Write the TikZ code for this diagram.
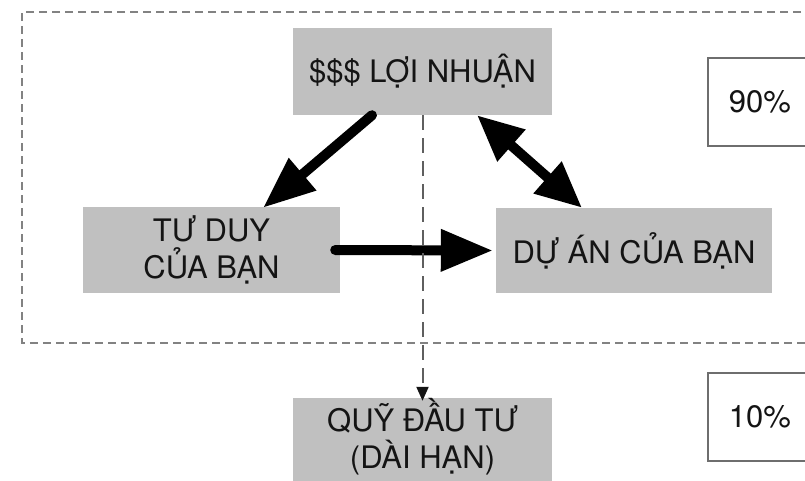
\documentclass[tikz,border=0pt]{standalone}
\usepackage{fontspec}
\setmainfont{TeX Gyre Heros}
\usetikzlibrary{arrows.meta}
\definecolor{boxgray}{RGB}{192,192,192}
\definecolor{framegray}{RGB}{130,130,130}
\definecolor{linegray}{RGB}{95,95,95}
\definecolor{pctborder}{RGB}{110,110,110}
\definecolor{inkblack}{RGB}{20,20,20}
\begin{document}
\begin{tikzpicture}[x=1pt,y=-1pt,
  graybox/.style={fill=boxgray, draw=none, inner sep=0pt, align=center,
    font=\fontsize{31}{37}\selectfont, text=inkblack},
  pctbox/.style={fill=white, draw=pctborder, line width=1.5pt, inner sep=0pt,
    minimum width=104pt, minimum height=88pt,
    font=\fontsize{31}{37}\selectfont, text=inkblack},
  bigarrow/.style={line width=10pt, draw=black, line cap=round,
    -{Triangle[length=52pt,width=40pt]}},
  dblarrow/.style={line width=10pt, draw=black,
    {Triangle[length=46pt,width=40pt]}-{Triangle[length=46pt,width=40pt]}},
  framedash/.style={draw=framegray, line width=1.3pt, dash pattern=on 8pt off 5pt},
  flowdash/.style={draw=linegray, line width=2pt, dash pattern=on 15pt off 8pt,
    -{Triangle[length=14pt,width=12pt,color=inkblack]}}
]
\useasboundingbox (0,0) rectangle (805,480);
\fill[white] (0,0) rectangle (805,480);

% dashed frame (right side runs past the edge)
\draw[framedash] (840,12) -- (22,12) -- (22,343) -- (840,343);

% boxes
\node[graybox, minimum width=259pt, minimum height=87pt] (profit) at (422.5,71.5) {\$\$\$ LỢI NHUẬN};
\node[graybox, minimum width=257pt, minimum height=86pt] (mind) at (211.5,250) {TƯ DUY\\CỦA BẠN};
\node[graybox, minimum width=276pt, minimum height=85pt] (project) at (634,250.5) {DỰ ÁN CỦA BẠN};
\node[graybox, minimum width=259pt, minimum height=78pt] (fund) at (422.5,437) {QUỸ ĐẦU TƯ\\(DÀI HẠN)};
\fill[boxgray] ([yshift=1pt]fund.south west) rectangle ([yshift=-20pt]fund.south east);
\node[pctbox] (p90) at (760,102) {90\%};
\node[pctbox] (p10) at (760,417) {10\%};

% thick arrows
\draw[bigarrow] ([xshift=-50.5pt]profit.south) -- ([xshift=51.5pt,yshift=-1pt]mind.north);
\draw[bigarrow] ([xshift=-5pt]mind.east) -- ([xshift=-3pt]project.west);
\draw[dblarrow] ([xshift=54.5pt]profit.south) -- ([xshift=-52pt]project.north);

% dashed flow to the fund
\draw[flowdash] (profit.south) -- ([yshift=-3pt]fund.north);
\end{tikzpicture}
\end{document}
